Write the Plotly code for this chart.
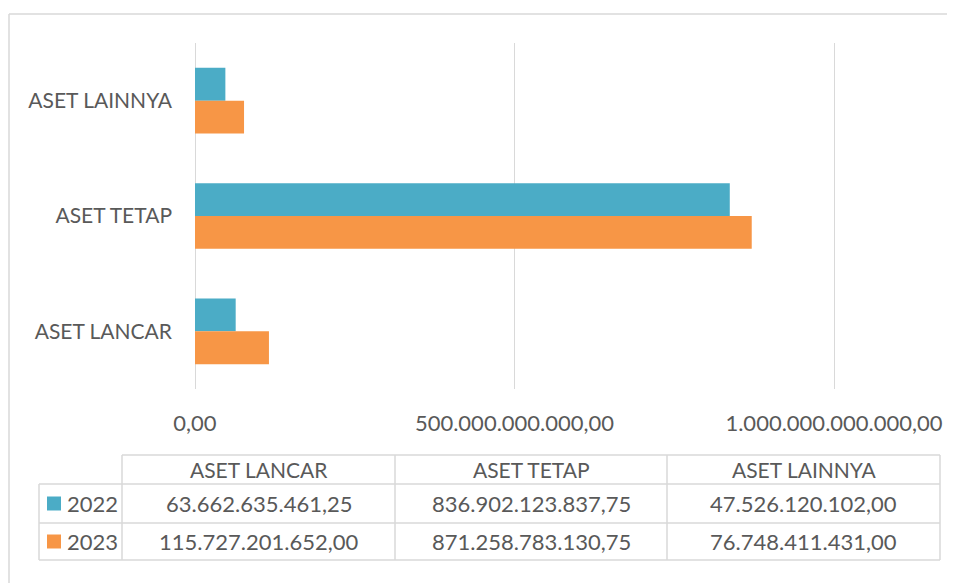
import plotly.graph_objects as go

# ---- data ----
categories = ["ASET LANCAR", "ASET TETAP", "ASET LAINNYA"]
years = ["2022", "2023"]
values_2022 = [63662635461.25, 836902123837.75, 47526120102.00]
values_2023 = [115727201652.00, 871258783130.75, 76748411431.00]
x_tickvals = [0, 500000000000, 1000000000000]

COLORS = {"2022": "#4BACC6", "2023": "#F79646"}
TEXT = "#595959"
GRID = "#D9D9D9"
FONT = "Lato"
FS = 21      # letters
FSN = 22     # numbers

OFF = 8                     # page (body) margin in the browser
W, H = 955 - OFF, 583 - OFF


def fmt(v):
    s = f"{v:,.2f}"
    return s.replace(",", "X").replace(".", ",").replace("X", ".")


def px(x):
    return (x - OFF) / W


def py(y):
    return 1 - (y - OFF) / H


series = {"2022": values_2022, "2023": values_2023}

# axis runs 0 .. 1e12 over 639 px; extend by 2 px so the last gridline is drawn
X0, X1 = 195, 834
xmax = x_tickvals[-1] * (1 + 2 / (X1 - X0))

fig = go.Figure()
for yr in years:
    fig.add_trace(go.Bar(
        y=categories, x=series[yr], orientation="h", name=yr,
        marker=dict(color=COLORS[yr], line=dict(width=0)),
        hoverinfo="x+y",
    ))

fig.update_layout(
    width=W, height=H, autosize=False,
    margin=dict(l=0, r=0, t=0, b=0, pad=0, autoexpand=False),
    paper_bgcolor="white", plot_bgcolor="white",
    barmode="group", bargap=0.43, bargroupgap=0,
    showlegend=False,
    font=dict(family=FONT, size=FS, color=TEXT),
    xaxis=dict(
        domain=[px(X0), px(X1 + 2)], range=[0, xmax], automargin=False,
        tickvals=x_tickvals, ticktext=[fmt(v) for v in x_tickvals],
        showgrid=True, gridcolor=GRID, gridwidth=1.3,
        zeroline=True, zerolinecolor=GRID, zerolinewidth=1.3,
        showline=False, ticks="", ticklabelstandoff=19,
        tickfont=dict(family=FONT, size=FSN, color=TEXT),
    ),
    yaxis=dict(
        domain=[py(389), py(43)], automargin=False,
        categoryorder="array", categoryarray=categories[::-1],
        autorange="reversed",
        showgrid=False, zeroline=False, showline=False, ticks="",
        ticklabelstandoff=22,
        tickfont=dict(family=FONT, size=FS, color=TEXT),
    ),
)

shapes = []
# outer chart border (continues past the right and bottom edges)
bl = dict(color=GRID, width=1.5)
shapes.append(dict(type="line", xref="paper", yref="paper",
                   x0=px(9), x1=1, y0=py(14), y1=py(14), line=bl, layer="below"))
shapes.append(dict(type="line", xref="paper", yref="paper",
                   x0=px(9), x1=px(9), y0=py(14), y1=0, line=bl, layer="below"))

# data table grid
tl = dict(color=GRID, width=1.5)
col_x = [122, 395, 667, 940]
row_y = [455, 484, 523, 560]
for yv in row_y:
    x0 = 122 if yv == 455 else 39
    shapes.append(dict(type="line", xref="paper", yref="paper",
                       x0=px(x0), x1=px(940), y0=py(yv), y1=py(yv), line=tl))
for xv in col_x:
    shapes.append(dict(type="line", xref="paper", yref="paper",
                       x0=px(xv), x1=px(xv), y0=py(455), y1=py(560), line=tl))
shapes.append(dict(type="line", xref="paper", yref="paper",
                   x0=px(39), x1=px(39), y0=py(484), y1=py(560), line=tl))

annotations = []
col_centers = [(col_x[i] + col_x[i + 1]) / 2 for i in range(3)]
row_centers = [(row_y[i] + row_y[i + 1]) / 2 for i in range(3)]
for i, cat in enumerate(categories):
    annotations.append(dict(text=cat, xref="paper", yref="paper",
                            x=px(col_centers[i]), y=py(row_centers[0]),
                            showarrow=False, xanchor="center", yanchor="middle",
                            font=dict(size=FS)))
for r, yr in enumerate(years):
    yc = row_centers[r + 1]
    shapes.append(dict(type="rect", xref="paper", yref="paper",
                       x0=px(47), x1=px(61), y0=py(yc - 7), y1=py(yc + 7),
                       line=dict(width=0), fillcolor=COLORS[yr]))
    annotations.append(dict(text=yr, xref="paper", yref="paper",
                            x=px(65), y=py(yc), showarrow=False,
                            xanchor="left", yanchor="middle", font=dict(size=FSN)))
    for i, v in enumerate(series[yr]):
        annotations.append(dict(text=fmt(v), xref="paper", yref="paper",
                                x=px(col_centers[i]), y=py(yc),
                                showarrow=False, xanchor="center", yanchor="middle",
                                font=dict(size=FSN)))

fig.update_layout(shapes=shapes, annotations=annotations)
fig.write_html("out.html")
